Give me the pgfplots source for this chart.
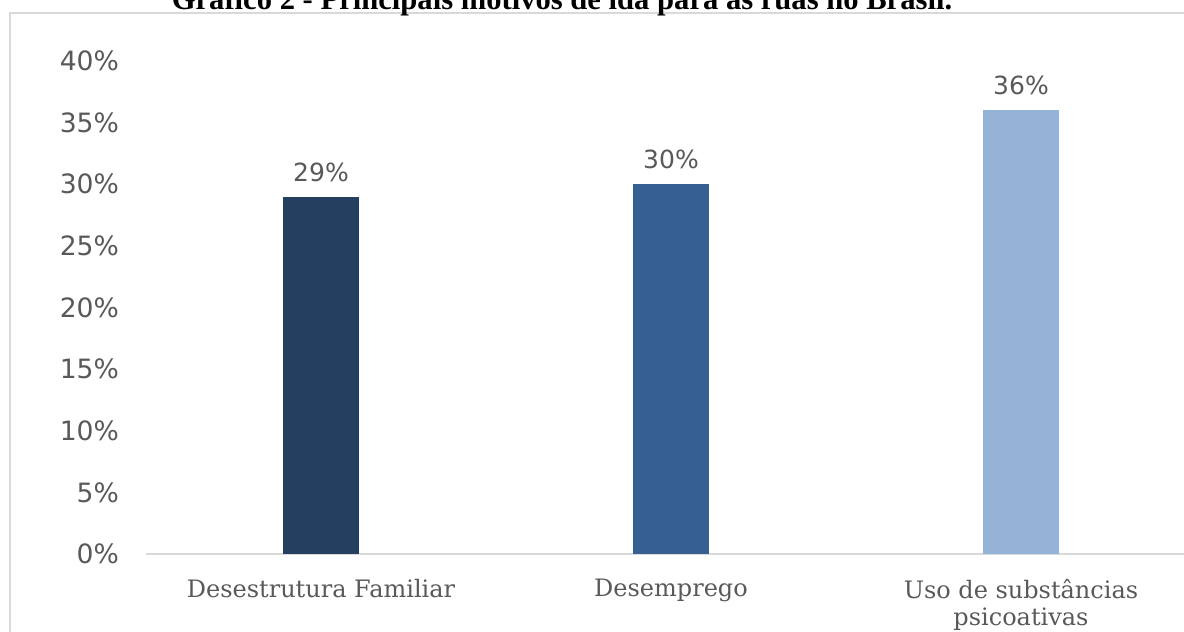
\documentclass[border=0pt]{standalone}
\usepackage{fontspec}
\setmainfont{Liberation Serif}
\newfontfamily\ticksfont{DejaVu Sans}
\newfontfamily\catfont{DejaVu Serif}
\usepackage{pgfplots}
\pgfplotsset{compat=1.18}
\definecolor{barA}{HTML}{243F60}
\definecolor{barB}{HTML}{366092}
\definecolor{barC}{HTML}{95B3D7}
\definecolor{txt}{HTML}{595959}
\definecolor{frame}{HTML}{D9D9D9}
\begin{document}
\begin{tikzpicture}
\useasboundingbox (0,0) rectangle (592pt,316pt);
\clip (0,0) rectangle (592pt,316pt);
\draw[frame, line width=1pt] (5pt,-10pt) rectangle (600pt,309.5pt);
\node[anchor=base, font=\fontsize{15.3}{18}\selectfont\bfseries] at (281pt,311pt) {Gráfico 2 - Principais motivos de ida para as ruas no Brasil.};
\begin{axis}[
  at={(73pt,39pt)}, anchor=south west,
  scale only axis, width=525pt, height=246.5pt,
  ybar, bar width=38pt, bar shift=0pt,
  xmin=-0.5, xmax=2.5, ymin=0, ymax=40,
  axis x line*=bottom, axis y line*=left,
  y axis line style={draw=none},
  x axis line style={draw=frame, line width=1pt},
  major tick length=0pt,
  ytick={0,5,...,40},
  yticklabel={\ticksfont\pgfmathprintnumber[assume math mode=true]{\tick}\%},
  yticklabel style={text=txt, font=\fontsize{13.3}{15}\selectfont, xshift=-10pt},
  xtick={0,1,2},
  xticklabels={Desestrutura Familiar, Desemprego, {Uso de substâncias\\psicoativas}},
  xticklabel style={text=txt, font=\catfont\fontsize{12}{13.5}\selectfont, align=center, yshift=-9pt},
  nodes near coords={\ticksfont\pgfmathprintnumber[assume math mode=true]{\pgfplotspointmeta}\%},
  nodes near coords style={text=txt, font=\fontsize{12.5}{15}\selectfont, yshift=4pt},
  clip=false,
]
\addplot[fill=barA, draw=none] coordinates {(0,29)};
\addplot[fill=barB, draw=none] coordinates {(1,30)};
\addplot[fill=barC, draw=none] coordinates {(2,36)};
\end{axis}
\end{tikzpicture}
\end{document}
